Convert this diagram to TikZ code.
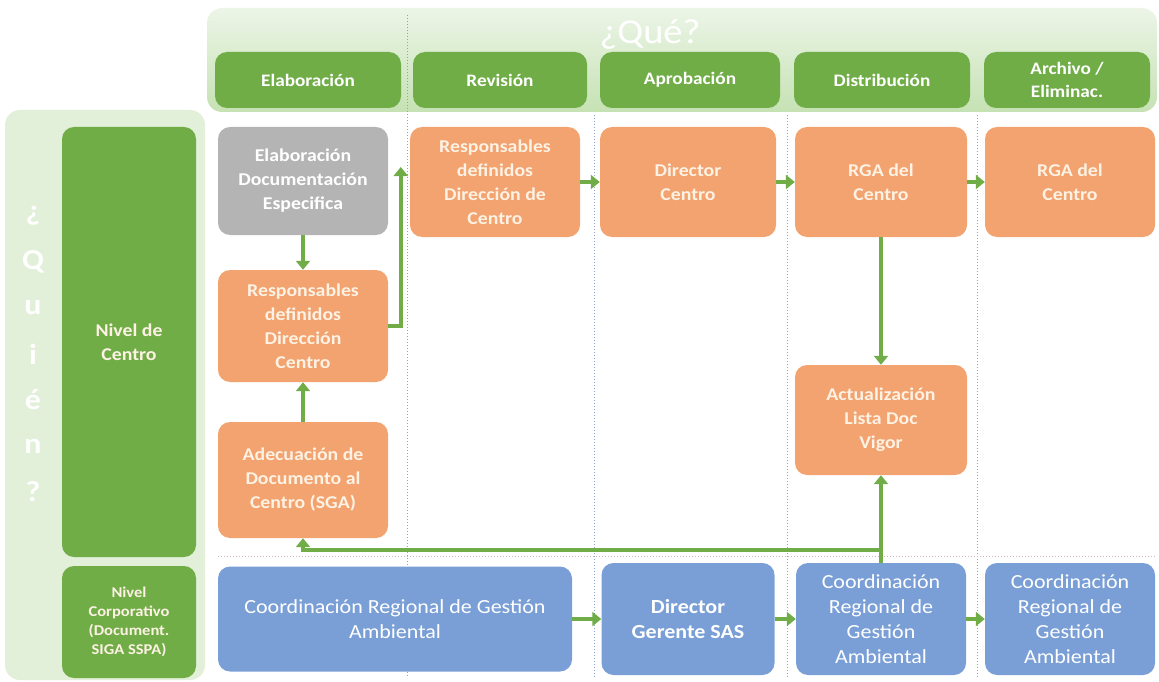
\documentclass[tikz,border=0pt]{standalone}
\usepackage{fontspec}
\setmainfont{Carlito}[FakeStretch=1.1]
\usetikzlibrary{arrows.meta}
\definecolor{flowgreen}{RGB}{112,173,71}
\definecolor{bandgreen}{RGB}{226,239,217}
\definecolor{bandtop}{RGB}{236,245,231}
\definecolor{bandbot}{RGB}{198,226,180}
\definecolor{floworange}{RGB}{242,163,111}
\definecolor{flowgray}{RGB}{180,180,180}
\definecolor{flowblue}{RGB}{122,159,214}
\definecolor{gridblue}{RGB}{140,160,212}
\definecolor{textcream}{RGB}{253,242,228}

\begin{document}
\begin{tikzpicture}[x=1pt, y=-1pt,
  box/.style={rectangle, rounded corners=12pt, align=center, inner sep=2pt,
    text=textcream, font=\bfseries\fontsize{18}{24}\selectfont},
  head/.style={box, fill=flowgreen, minimum height=56pt, text=white,
    font=\bfseries\fontsize{17.5}{23}\selectfont},
  task/.style={box, fill=floworange},
  who/.style={box, fill=flowblue, text=white, font=\fontsize{20}{25}\selectfont},
  flow/.style={line width=4pt, flowgreen, -{Triangle[width=14pt,length=9pt]}},
  lane/.style={gridblue, dotted, line width=1pt}]
  \useasboundingbox (0,0) rectangle (1159,682);
  % bands for Que / Quien
  \shade[top color=bandtop, bottom color=bandbot, rounded corners=15pt]
    (207,8) rectangle (1157,112);
  \fill[bandgreen, rounded corners=15pt] (5,110) rectangle (205,680);
  \node[text=white, font=\fontsize{35}{35}\selectfont] (que) at (650,34) {¿Qué?};
  \foreach \ch [count=\i] in {¿,Q,u,i,é,n,?}
    \node[text=white, font=\bfseries\fontsize{29}{29}\selectfont] (q\i) at (33,{170+46*\i}) {\ch};
  % column and row separators
  \draw[lane] (407,15) -- (407,678);
  \foreach \x in {594,787,977}
    \draw[lane] (\x,115) -- (\x,678);
  \draw[lane, color=gridblue!60!red!50] (218,556) -- (1155,556);
  % column headers
  \node[head, minimum width=186pt] (elab) at (308,80) {Elaboración};
  \node[head, minimum width=174pt] (rev) at (500,80) {Revisión};
  \node[head, minimum width=180pt] (apr) at (690,80) {Aprobación};
  \node[head, minimum width=176pt] (dist) at (882,80) {Distribución};
  \node[head, minimum width=166pt] (arch) at (1067,80) {Archivo /\\Eliminac.};
  % row headers
  \node[box, fill=flowgreen, minimum width=134pt, minimum height=430pt] (centro) at (129,342) {Nivel de\\Centro};
  \node[box, fill=flowgreen, minimum width=134pt, minimum height=112pt,
    font=\bfseries\fontsize{15}{19}\selectfont] (corp) at (129,622) {Nivel\\Corporativo\\(Document.\\SIGA SSPA)};
  % centre level
  \node[box, fill=flowgray, text=white, minimum width=170pt, minimum height=108pt] (espec) at (303,181) {Elaboración\\Documentación\\Especifica};
  \node[task, minimum width=170pt, minimum height=112pt] (resp1) at (303,326) {Responsables\\definidos\\Dirección\\Centro};
  \node[task, minimum width=170pt, minimum height=116pt] (adec) at (303,480) {Adecuación de\\Documento al\\Centro (SGA)};
  \node[task, minimum width=170pt, minimum height=110pt] (resp2) at (495,182) {Responsables\\definidos\\Dirección de\\Centro};
  \node[task, minimum width=176pt, minimum height=110pt] (dirc) at (688,182) {Director\\Centro};
  \node[task, minimum width=172pt, minimum height=110pt] (rga1) at (881,182) {RGA del\\Centro};
  \node[task, minimum width=170pt, minimum height=110pt] (rga2) at (1070,182) {RGA del\\Centro};
  \node[task, minimum width=172pt, minimum height=110pt] (act) at (881,420) {Actualización\\Lista Doc\\Vigor};
  % corporate level
  \node[who, minimum width=354pt, minimum height=105pt] (crga1) at (395,619) {Coordinación Regional de Gestión\\Ambiental};
  \node[who, font=\bfseries\fontsize{20}{25}\selectfont, minimum width=173pt, minimum height=112pt] (dgs) at (688,619) {Director\\Gerente SAS};
  \node[who, minimum width=170pt, minimum height=112pt] (crga2) at (881,619) {Coordinación\\Regional de\\Gestión\\Ambiental};
  \node[who, minimum width=170pt, minimum height=112pt] (crga3) at (1070,619) {Coordinación\\Regional de\\Gestión\\Ambiental};
  % connectors
  \draw[flow] (espec) -- (resp1);
  \draw[flow] (adec) -- (resp1);
  \draw[flow] (resp1.east) -| ([xshift=-9pt,yshift=15pt]resp2.west);
  \draw[flow] (resp2) -- (dirc);
  \draw[flow] (dirc) -- (rga1);
  \draw[flow] (rga1) -- (rga2);
  \draw[flow] (rga1) -- (act);
  \draw[flow] (crga2.north) -- (act.south);
  \draw[flow] (crga2.north) -- ++(0,-13) -| (adec.south);
  \draw[flow] (crga1) -- (dgs);
  \draw[flow] (dgs) -- (crga2);
  \draw[flow] (crga2) -- (crga3);
\end{tikzpicture}
\end{document}
